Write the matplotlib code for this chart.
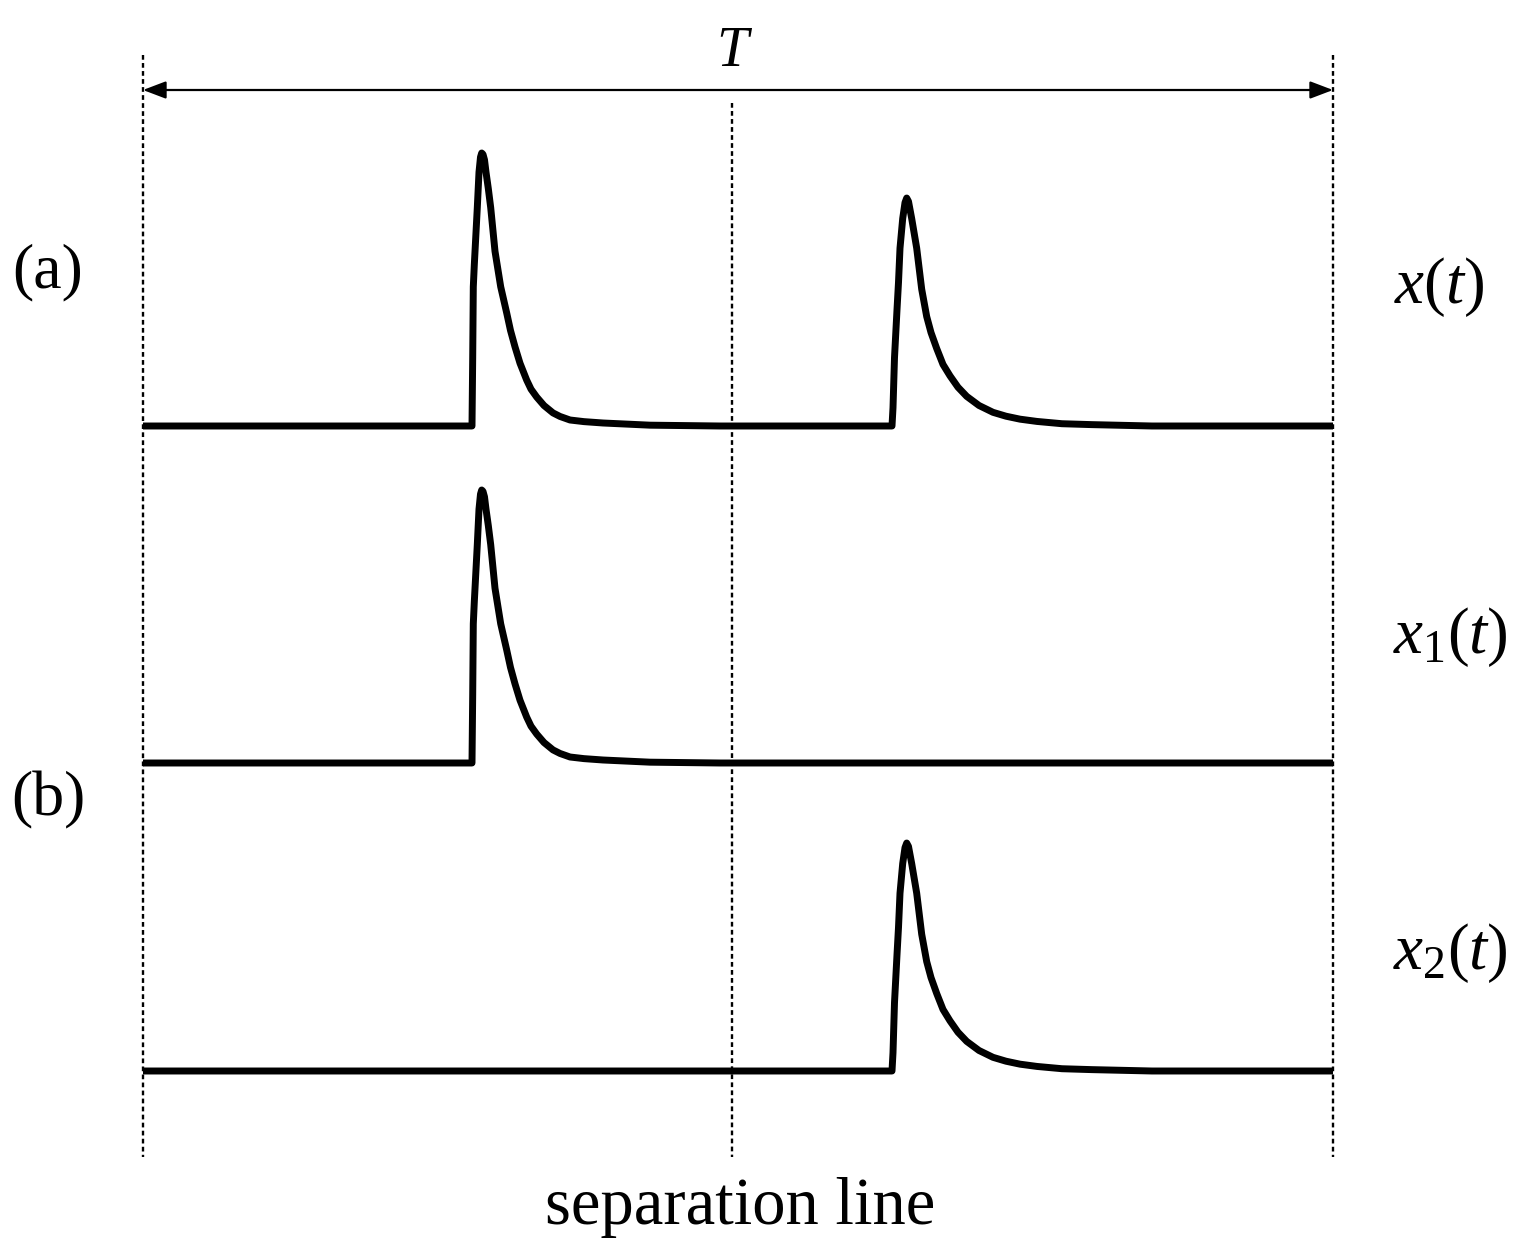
import numpy as np
import matplotlib
matplotlib.use("Agg")
import matplotlib.pyplot as plt

plt.rcParams['font.family'] = ['Liberation Serif', 'DejaVu Serif']
plt.rcParams['mathtext.fontset'] = 'custom'
plt.rcParams['mathtext.rm'] = 'Liberation Serif'
plt.rcParams['mathtext.it'] = 'Liberation Serif:italic'

# time axis (arbitrary units), period T
T = 1190
t_sep = 589                      # separation line
onsets = [329, 749]              # pulse onsets
amps = [1.0, 0.835]              # pulse amplitudes

# pulse shapes: time after onset vs normalised height
pulse1_dt = [0, 0.7, 1.3, 2.3, 3.3, 5.3, 7, 8.5, 9.7, 11, 12.5, 14, 16.3,
             18.7, 23, 28.7, 34.7, 38.5, 43, 48, 54.7, 59, 64.7, 72, 81, 88,
             98, 112, 131, 178, 248]
pulse1_h = [0, 0.25, 0.51, 0.59, 0.66, 0.8, 0.93, 0.985, 1.0, 0.995, 0.975,
            0.93, 0.87, 0.8, 0.64, 0.51, 0.414, 0.35, 0.29, 0.23, 0.168,
            0.135, 0.106, 0.075, 0.048, 0.035, 0.022, 0.016, 0.011, 0.003,
            0.0]
pulse2_dt = [0, 1, 2.5, 5, 6.5, 8, 10.7, 13, 14.7, 16.5, 19.7, 24.7, 29.7,
             34.7, 39, 44.7, 51, 58, 66, 74.7, 87, 101, 114, 128, 145, 170,
             200, 260]
pulse2_h = [0, 0.08, 0.3, 0.51, 0.63, 0.78, 0.91, 0.98, 1.0, 0.985, 0.91,
            0.78, 0.6, 0.48, 0.41, 0.34, 0.27, 0.22, 0.17, 0.13, 0.09, 0.06,
            0.043, 0.03, 0.02, 0.01, 0.006, 0.0]

labels = [r'$x\mathrm{(}t\mathrm{)}$', r'$x_{\mathrm{1}}\mathrm{(}t\mathrm{)}$',
          r'$x_{\mathrm{2}}\mathrm{(}t\mathrm{)}$']

shapes = [(pulse1_dt, pulse1_h), (pulse2_dt, pulse2_h)]


def trace(which):
    ts, ys = [0.0], [0.0]
    for k in which:
        dts, hs = shapes[k]
        for dt, h in zip(dts, hs):
            ts.append(onsets[k] + dt)
            ys.append(amps[k] * h)
    ts.append(T)
    ys.append(0.0)
    return np.array(ts), np.array(ys)


W, H = 1518, 1250
fig = plt.figure(figsize=(W / 100, H / 100), dpi=100)
ax = fig.add_axes([0, 0, 1, 1])
scale = 273.0  # px per amplitude unit
ax.set_xlim(-143, W - 143)
ax.set_ylim(0, H / scale)
ax.axis('off')


def py(p):
    # picture row -> data y
    return (H - p) / scale


baselines = [py(426), py(763), py(1071)]
traces = [trace([0, 1]), trace([0]), trace([1])]
for (ts, ys), b in zip(traces, baselines):
    ax.plot(ts, ys + b, color='black', lw=5, solid_joinstyle='round',
            solid_capstyle='butt', zorder=3)

# dashed guide lines
for x, top in [(0, 55), (t_sep, 103), (T, 55)]:
    ax.plot([x, x], [py(top), py(1157)], color='black', lw=1.7,
            dashes=(2.0, 1.4), zorder=2)

# period arrow
ax.annotate('', xy=(0, py(90)), xytext=(T, py(90)),
            arrowprops=dict(arrowstyle='<|-|>,head_length=1.0,head_width=0.38',
                            mutation_scale=14, color='black', lw=1.6,
                            shrinkA=0, shrinkB=0))
ax.text(T / 2 - 6, py(52), 'T', style='italic', fontsize=41,
        ha='center', va='center')

ax.text(-95, py(272), '(a)', fontsize=46, ha='center', va='center')
ax.text(-95, py(800), '(b)', fontsize=46, ha='center', va='center')

for lab, (x, y) in zip(labels, [(1439, 287), (1450, 637), (1450, 953)]):
    ax.text(x - 143, py(y), lab, fontsize=47, ha='center', va='center')

ax.text(740 - 143, py(1208), 'separation line', fontsize=48,
        ha='center', va='center')

fig.savefig('out.png', dpi=100)
